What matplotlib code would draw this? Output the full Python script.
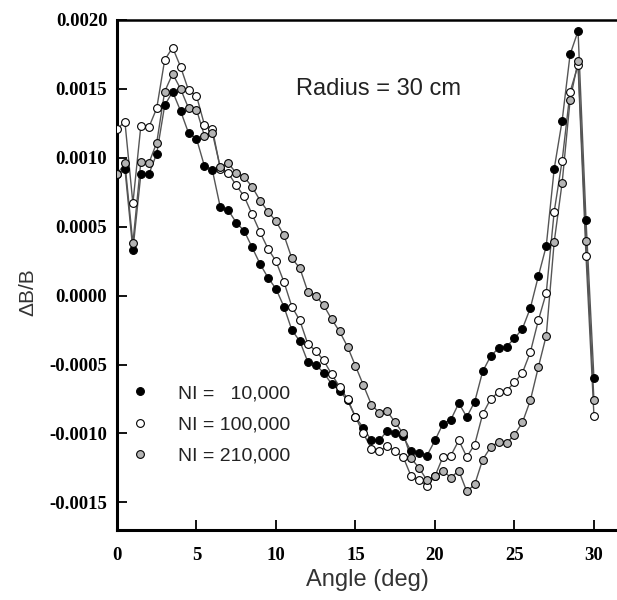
import matplotlib
matplotlib.use("Agg")
import matplotlib.pyplot as plt
from matplotlib.lines import Line2D

angle = [0.0, 0.5, 1.0, 1.5, 2.0, 2.5, 3.0, 3.5, 4.0, 4.5,
         5.0, 5.5, 6.0, 6.5, 7.0, 7.5, 8.0, 8.5, 9.0, 9.5,
         10.0, 10.5, 11.0, 11.5, 12.0, 12.5, 13.0, 13.5, 14.0, 14.5,
         15.0, 15.5, 16.0, 16.5, 17.0, 17.5, 18.0, 18.5, 19.0, 19.5,
         20.0, 20.5, 21.0, 21.5, 22.0, 22.5, 23.0, 23.5, 24.0, 24.5,
         25.0, 25.5, 26.0, 26.5, 27.0, 27.5, 28.0, 28.5, 29.0, 29.5,
         30.0]

# NI = 10,000
db_10k = [0.00088, 0.00092, 0.00033, 0.00088, 0.00088, 0.00103, 0.00138, 0.00148, 0.00134, 0.00118,
          0.00114, 0.00094, 0.00091, 0.00064, 0.00062, 0.00053, 0.00047, 0.00035, 0.00023, 0.00013,
          0.00005, -0.00008, -0.00025, -0.00033, -0.00048, -0.00050, -0.00056, -0.00064, -0.00069, -0.00076,
          -0.00088, -0.00096, -0.00105, -0.00105, -0.00098, -0.00100, -0.00102, -0.00113, -0.00114, -0.00116,
          -0.00105, -0.00093, -0.00090, -0.00078, -0.00088, -0.00077, -0.00055, -0.00044, -0.00038, -0.00037,
          -0.00031, -0.00024, -0.00009, 0.00014, 0.00036, 0.00092, 0.00127, 0.00175, 0.00192, 0.00055,
          -0.00060]

# NI = 100,000
db_100k = [0.00121, 0.00126, 0.00067, 0.00123, 0.00122, 0.00136, 0.00171, 0.00180, 0.00166, 0.00149,
           0.00145, 0.00124, 0.00121, 0.00092, 0.00089, 0.00080, 0.00072, 0.00059, 0.00046, 0.00034,
           0.00025, 0.00010, -0.00008, -0.00018, -0.00035, -0.00040, -0.00047, -0.00057, -0.00066, -0.00075,
           -0.00088, -0.00100, -0.00111, -0.00113, -0.00109, -0.00113, -0.00117, -0.00131, -0.00134, -0.00138,
           -0.00131, -0.00117, -0.00116, -0.00105, -0.00117, -0.00108, -0.00086, -0.00075, -0.00070, -0.00069,
           -0.00063, -0.00056, -0.00041, -0.00018, 0.00002, 0.00061, 0.00098, 0.00148, 0.00167, 0.00029,
           -0.00087]

# NI = 210,000
db_210k = [0.00088, 0.00096, 0.00038, 0.00097, 0.00096, 0.00111, 0.00148, 0.00161, 0.00150, 0.00136,
           0.00135, 0.00116, 0.00118, 0.00093, 0.00096, 0.00089, 0.00086, 0.00079, 0.00069, 0.00061,
           0.00054, 0.00044, 0.00027, 0.00020, 0.00003, 0.00000, -0.00007, -0.00017, -0.00026, -0.00037,
           -0.00051, -0.00065, -0.00079, -0.00085, -0.00084, -0.00092, -0.00100, -0.00118, -0.00125, -0.00134,
           -0.00131, -0.00127, -0.00132, -0.00127, -0.00142, -0.00137, -0.00119, -0.00110, -0.00106, -0.00107,
           -0.00101, -0.00092, -0.00076, -0.00052, -0.00029, 0.00039, 0.00082, 0.00142, 0.00170, 0.00040,
           -0.00076]

labels = ["NI =   10,000", "NI = 100,000", "NI = 210,000"]
fills = ["black", "white", "#b4b4b4"]

xticks = [0, 5, 10, 15, 20, 25, 30]
yticks = [-0.0015, -0.0010, -0.0005, 0.0, 0.0005, 0.0010, 0.0015, 0.0020]
ytick_labels = ["-0.0015", "-0.0010", "-0.0005", "0.0000", "0.0005", "0.0010", "0.0015", "0.0020"]

fig = plt.figure(figsize=(6.17, 6.0), dpi=100)
ax = fig.add_axes([0.1896, 0.1167, 0.8104, 0.85])

for ys, fc in zip([db_10k, db_100k, db_210k], fills):
    ax.plot(angle, ys, "-", color="#555555", lw=1.0, zorder=2)
    ax.plot(angle, ys, "o", ms=5.6, mfc=fc, mec="black", mew=0.8, ls="none", zorder=3)

ax.set_xlim(0, 31.45)
ax.set_ylim(-0.0017, 0.0020)

ax.set_xticks(xticks)
ax.set_xticklabels([str(t) for t in xticks])
ax.set_yticks(yticks)
ax.set_yticklabels(ytick_labels)
ax.tick_params(direction="in", length=7, width=1.3, colors="black")
ax.tick_params(axis="x", pad=12)
ax.tick_params(axis="y", pad=7)
for lab in ax.get_xticklabels() + ax.get_yticklabels():
    lab.set_fontfamily("Liberation Serif")
    lab.set_fontweight("bold")
    lab.set_fontsize(13.5)

for side in ["left", "bottom"]:
    ax.spines[side].set_linewidth(2.2)
ax.spines["top"].set_linewidth(1.8)
ax.spines["right"].set_visible(False)

ax.set_xlabel("Angle (deg)", fontfamily="Liberation Sans", fontsize=17, color="#333333", labelpad=4)
ax.set_ylabel("\u0394B/B", fontfamily="Liberation Sans", fontsize=15, color="#333333")
ax.yaxis.set_label_coords(-0.16, 0.467)

ax.text(0.358, 0.865, "Radius = 30 cm", transform=ax.transAxes, fontfamily="Liberation Sans",
        fontsize=17, color="#222222", va="center", ha="left")

handles = [Line2D([], [], marker="o", ls="none", ms=5.6, mfc=fc, mec="black", mew=0.8) for fc in fills]
leg = ax.legend(handles, labels, loc="upper left", bbox_to_anchor=(0.008, 0.304), frameon=False,
                prop={"family": "Liberation Sans", "size": 14}, borderpad=0, handlelength=1.0,
                handletextpad=1.42, labelspacing=0.7)
for t in leg.get_texts():
    t.set_color("#222222")

fig.savefig("out.png", dpi=100)
